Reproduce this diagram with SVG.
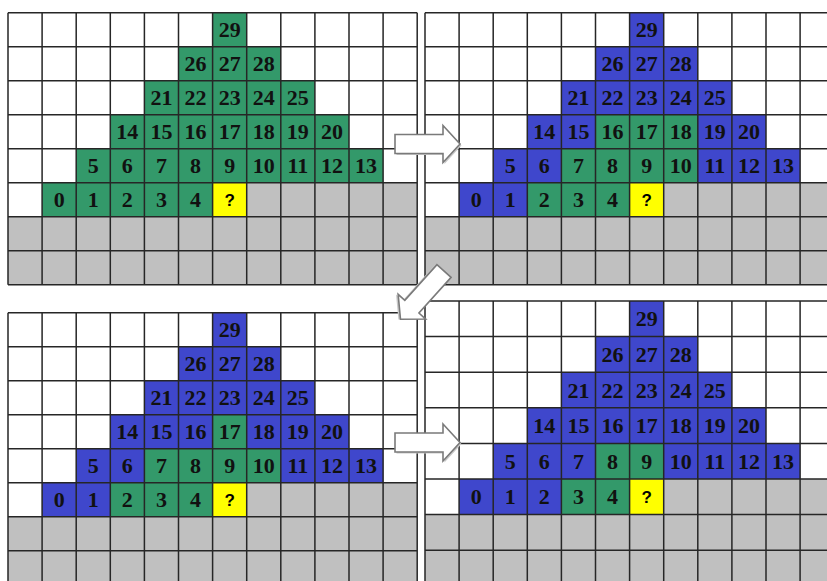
<svg xmlns="http://www.w3.org/2000/svg" width="827" height="581" viewBox="0 0 827 581">
<defs>
<style>
.bg{fill:#fff}
.gr{fill:#c0c0c0}
.g{fill:#33996a}
.b{fill:#3f47cc}
.y{fill:#ffff00}
.ln{fill:none;stroke:#262626;stroke-width:1.5}
.n{font-family:"Liberation Serif","Times New Roman",serif;font-weight:bold;font-size:22px;fill:#111;text-anchor:middle}
.q{font-family:"Liberation Sans",Arial,sans-serif;font-weight:bold;font-size:17px;fill:#000;text-anchor:middle}
.arr{fill:#fff;stroke:#7a7a7a;stroke-width:1.6;stroke-linejoin:miter}
.sh{fill:#c8c8c8;stroke:none}
</style>
<path id="arrowShape" d="M0,-9.5 L48,-9.5 L48,-18.5 L65,0 L48,18.5 L48,9.5 L0,9.5 Z"/>
</defs>
<rect width="827" height="581" fill="#fff"/>

<g id="grid-top-left" transform="translate(8,12.7)">
<rect class="bg" width="409.2" height="272"/>
<rect class="gr" x="238.7" y="170" width="170.5" height="34"/>
<rect class="gr" x="0" y="204" width="409.2" height="68"/>
<rect class="g" x="204.6" y="0" width="34.1" height="34"/>
<rect class="g" x="170.5" y="34" width="102.3" height="34"/>
<rect class="g" x="136.4" y="68" width="170.5" height="34"/>
<rect class="g" x="102.3" y="102" width="238.7" height="34"/>
<rect class="g" x="68.2" y="136" width="306.9" height="34"/>
<rect class="g" x="34.1" y="170" width="170.5" height="34"/>
<rect class="y" x="204.6" y="170" width="34.1" height="34"/>
<path class="ln" d="M0,0H409.2M0,34H409.2M0,68H409.2M0,102H409.2M0,136H409.2M0,170H409.2M0,204H409.2M0,238H409.2M0,272H409.2M0,0V272M34.1,0V272M68.2,0V272M102.3,0V272M136.4,0V272M170.5,0V272M204.6,0V272M238.7,0V272M272.8,0V272M306.9,0V272M341,0V272M375.1,0V272M409.2,0V272"/>
<text class="n" x="221.65" y="24.5">29</text>
<text class="n" x="187.55" y="58.5">26</text><text class="n" x="221.65" y="58.5">27</text><text class="n" x="255.75" y="58.5">28</text>
<text class="n" x="153.45" y="92.5">21</text><text class="n" x="187.55" y="92.5">22</text><text class="n" x="221.65" y="92.5">23</text><text class="n" x="255.75" y="92.5">24</text><text class="n" x="289.85" y="92.5">25</text>
<text class="n" x="119.35" y="126.5">14</text><text class="n" x="153.45" y="126.5">15</text><text class="n" x="187.55" y="126.5">16</text><text class="n" x="221.65" y="126.5">17</text><text class="n" x="255.75" y="126.5">18</text><text class="n" x="289.85" y="126.5">19</text><text class="n" x="323.95" y="126.5">20</text>
<text class="n" x="85.25" y="160.5">5</text><text class="n" x="119.35" y="160.5">6</text><text class="n" x="153.45" y="160.5">7</text><text class="n" x="187.55" y="160.5">8</text><text class="n" x="221.65" y="160.5">9</text><text class="n" x="255.75" y="160.5">10</text><text class="n" x="289.85" y="160.5">11</text><text class="n" x="323.95" y="160.5">12</text><text class="n" x="358.05" y="160.5">13</text>
<text class="n" x="51.15" y="194.5">0</text><text class="n" x="85.25" y="194.5">1</text><text class="n" x="119.35" y="194.5">2</text><text class="n" x="153.45" y="194.5">3</text><text class="n" x="187.55" y="194.5">4</text><text class="q" x="221.65" y="193">?</text>
</g>

<g id="grid-top-right" transform="translate(425,12.7)">
<rect class="bg" width="409.2" height="272"/>
<rect class="gr" x="238.7" y="170" width="170.5" height="34"/>
<rect class="gr" x="0" y="204" width="409.2" height="68"/>
<rect class="b" x="204.6" y="0" width="34.1" height="34"/>
<rect class="b" x="170.5" y="34" width="102.3" height="34"/>
<rect class="b" x="136.4" y="68" width="170.5" height="34"/>
<rect class="b" x="102.3" y="102" width="68.2" height="34"/>
<rect class="g" x="170.5" y="102" width="102.3" height="34"/>
<rect class="b" x="272.8" y="102" width="68.2" height="34"/>
<rect class="b" x="68.2" y="136" width="68.2" height="34"/>
<rect class="g" x="136.4" y="136" width="136.4" height="34"/>
<rect class="b" x="272.8" y="136" width="102.3" height="34"/>
<rect class="b" x="34.1" y="170" width="68.2" height="34"/>
<rect class="g" x="102.3" y="170" width="102.3" height="34"/>
<rect class="y" x="204.6" y="170" width="34.1" height="34"/>
<path class="ln" d="M0,0H409.2M0,34H409.2M0,68H409.2M0,102H409.2M0,136H409.2M0,170H409.2M0,204H409.2M0,238H409.2M0,272H409.2M0,0V272M34.1,0V272M68.2,0V272M102.3,0V272M136.4,0V272M170.5,0V272M204.6,0V272M238.7,0V272M272.8,0V272M306.9,0V272M341,0V272M375.1,0V272M409.2,0V272"/>
<text class="n" x="221.65" y="24.5">29</text>
<text class="n" x="187.55" y="58.5">26</text><text class="n" x="221.65" y="58.5">27</text><text class="n" x="255.75" y="58.5">28</text>
<text class="n" x="153.45" y="92.5">21</text><text class="n" x="187.55" y="92.5">22</text><text class="n" x="221.65" y="92.5">23</text><text class="n" x="255.75" y="92.5">24</text><text class="n" x="289.85" y="92.5">25</text>
<text class="n" x="119.35" y="126.5">14</text><text class="n" x="153.45" y="126.5">15</text><text class="n" x="187.55" y="126.5">16</text><text class="n" x="221.65" y="126.5">17</text><text class="n" x="255.75" y="126.5">18</text><text class="n" x="289.85" y="126.5">19</text><text class="n" x="323.95" y="126.5">20</text>
<text class="n" x="85.25" y="160.5">5</text><text class="n" x="119.35" y="160.5">6</text><text class="n" x="153.45" y="160.5">7</text><text class="n" x="187.55" y="160.5">8</text><text class="n" x="221.65" y="160.5">9</text><text class="n" x="255.75" y="160.5">10</text><text class="n" x="289.85" y="160.5">11</text><text class="n" x="323.95" y="160.5">12</text><text class="n" x="358.05" y="160.5">13</text>
<text class="n" x="51.15" y="194.5">0</text><text class="n" x="85.25" y="194.5">1</text><text class="n" x="119.35" y="194.5">2</text><text class="n" x="153.45" y="194.5">3</text><text class="n" x="187.55" y="194.5">4</text><text class="q" x="221.65" y="193">?</text>
</g>

<g id="grid-bottom-left" transform="translate(8,312.7)">
<rect class="bg" width="409.2" height="272"/>
<rect class="gr" x="238.7" y="170" width="170.5" height="34"/>
<rect class="gr" x="0" y="204" width="409.2" height="68"/>
<rect class="b" x="204.6" y="0" width="34.1" height="34"/>
<rect class="b" x="170.5" y="34" width="102.3" height="34"/>
<rect class="b" x="136.4" y="68" width="170.5" height="34"/>
<rect class="b" x="102.3" y="102" width="102.3" height="34"/>
<rect class="g" x="204.6" y="102" width="34.1" height="34"/>
<rect class="b" x="238.7" y="102" width="102.3" height="34"/>
<rect class="b" x="68.2" y="136" width="68.2" height="34"/>
<rect class="g" x="136.4" y="136" width="136.4" height="34"/>
<rect class="b" x="272.8" y="136" width="102.3" height="34"/>
<rect class="b" x="34.1" y="170" width="68.2" height="34"/>
<rect class="g" x="102.3" y="170" width="102.3" height="34"/>
<rect class="y" x="204.6" y="170" width="34.1" height="34"/>
<path class="ln" d="M0,0H409.2M0,34H409.2M0,68H409.2M0,102H409.2M0,136H409.2M0,170H409.2M0,204H409.2M0,238H409.2M0,272H409.2M0,0V272M34.1,0V272M68.2,0V272M102.3,0V272M136.4,0V272M170.5,0V272M204.6,0V272M238.7,0V272M272.8,0V272M306.9,0V272M341,0V272M375.1,0V272M409.2,0V272"/>
<text class="n" x="221.65" y="24.5">29</text>
<text class="n" x="187.55" y="58.5">26</text><text class="n" x="221.65" y="58.5">27</text><text class="n" x="255.75" y="58.5">28</text>
<text class="n" x="153.45" y="92.5">21</text><text class="n" x="187.55" y="92.5">22</text><text class="n" x="221.65" y="92.5">23</text><text class="n" x="255.75" y="92.5">24</text><text class="n" x="289.85" y="92.5">25</text>
<text class="n" x="119.35" y="126.5">14</text><text class="n" x="153.45" y="126.5">15</text><text class="n" x="187.55" y="126.5">16</text><text class="n" x="221.65" y="126.5">17</text><text class="n" x="255.75" y="126.5">18</text><text class="n" x="289.85" y="126.5">19</text><text class="n" x="323.95" y="126.5">20</text>
<text class="n" x="85.25" y="160.5">5</text><text class="n" x="119.35" y="160.5">6</text><text class="n" x="153.45" y="160.5">7</text><text class="n" x="187.55" y="160.5">8</text><text class="n" x="221.65" y="160.5">9</text><text class="n" x="255.75" y="160.5">10</text><text class="n" x="289.85" y="160.5">11</text><text class="n" x="323.95" y="160.5">12</text><text class="n" x="358.05" y="160.5">13</text>
<text class="n" x="51.15" y="194.5">0</text><text class="n" x="85.25" y="194.5">1</text><text class="n" x="119.35" y="194.5">2</text><text class="n" x="153.45" y="194.5">3</text><text class="n" x="187.55" y="194.5">4</text><text class="q" x="221.65" y="193">?</text>
</g>

<g id="grid-bottom-right" transform="translate(425,301)">
<rect class="bg" width="409.2" height="284.8"/>
<rect class="gr" x="238.7" y="178" width="170.5" height="35.6"/>
<rect class="gr" x="0" y="213.6" width="409.2" height="71.2"/>
<rect class="b" x="204.6" y="0" width="34.1" height="35.6"/>
<rect class="b" x="170.5" y="35.6" width="102.3" height="35.6"/>
<rect class="b" x="136.4" y="71.2" width="170.5" height="35.6"/>
<rect class="b" x="102.3" y="106.8" width="238.7" height="35.6"/>
<rect class="b" x="68.2" y="142.4" width="102.3" height="35.6"/>
<rect class="g" x="170.5" y="142.4" width="68.2" height="35.6"/>
<rect class="b" x="238.7" y="142.4" width="136.4" height="35.6"/>
<rect class="b" x="34.1" y="178" width="102.3" height="35.6"/>
<rect class="g" x="136.4" y="178" width="68.2" height="35.6"/>
<rect class="y" x="204.6" y="178" width="34.1" height="35.6"/>
<path class="ln" d="M0,0H409.2M0,35.6H409.2M0,71.2H409.2M0,106.8H409.2M0,142.4H409.2M0,178H409.2M0,213.6H409.2M0,249.2H409.2M0,284.8H409.2M0,0V284.8M34.1,0V284.8M68.2,0V284.8M102.3,0V284.8M136.4,0V284.8M170.5,0V284.8M204.6,0V284.8M238.7,0V284.8M272.8,0V284.8M306.9,0V284.8M341,0V284.8M375.1,0V284.8M409.2,0V284.8"/>
<text class="n" x="221.65" y="25.3">29</text>
<text class="n" x="187.55" y="60.9">26</text><text class="n" x="221.65" y="60.9">27</text><text class="n" x="255.75" y="60.9">28</text>
<text class="n" x="153.45" y="96.5">21</text><text class="n" x="187.55" y="96.5">22</text><text class="n" x="221.65" y="96.5">23</text><text class="n" x="255.75" y="96.5">24</text><text class="n" x="289.85" y="96.5">25</text>
<text class="n" x="119.35" y="132.1">14</text><text class="n" x="153.45" y="132.1">15</text><text class="n" x="187.55" y="132.1">16</text><text class="n" x="221.65" y="132.1">17</text><text class="n" x="255.75" y="132.1">18</text><text class="n" x="289.85" y="132.1">19</text><text class="n" x="323.95" y="132.1">20</text>
<text class="n" x="85.25" y="167.7">5</text><text class="n" x="119.35" y="167.7">6</text><text class="n" x="153.45" y="167.7">7</text><text class="n" x="187.55" y="167.7">8</text><text class="n" x="221.65" y="167.7">9</text><text class="n" x="255.75" y="167.7">10</text><text class="n" x="289.85" y="167.7">11</text><text class="n" x="323.95" y="167.7">12</text><text class="n" x="358.05" y="167.7">13</text>
<text class="n" x="51.15" y="203.3">0</text><text class="n" x="85.25" y="203.3">1</text><text class="n" x="119.35" y="203.3">2</text><text class="n" x="153.45" y="203.3">3</text><text class="n" x="187.55" y="203.3">4</text><text class="q" x="221.65" y="201.8">?</text>
</g>

<g id="connectors">
<g transform="translate(395,144)"><use href="#arrowShape" class="sh" x="1.5" y="1.5"/><use href="#arrowShape" class="arr"/></g>
<g transform="translate(444,271) rotate(132)"><use href="#arrowShape" class="sh" x="1.5" y="1.5"/><use href="#arrowShape" class="arr"/></g>
<g transform="translate(395,442.5)"><use href="#arrowShape" class="sh" x="1.5" y="1.5"/><use href="#arrowShape" class="arr"/></g>
</g>
</svg>
